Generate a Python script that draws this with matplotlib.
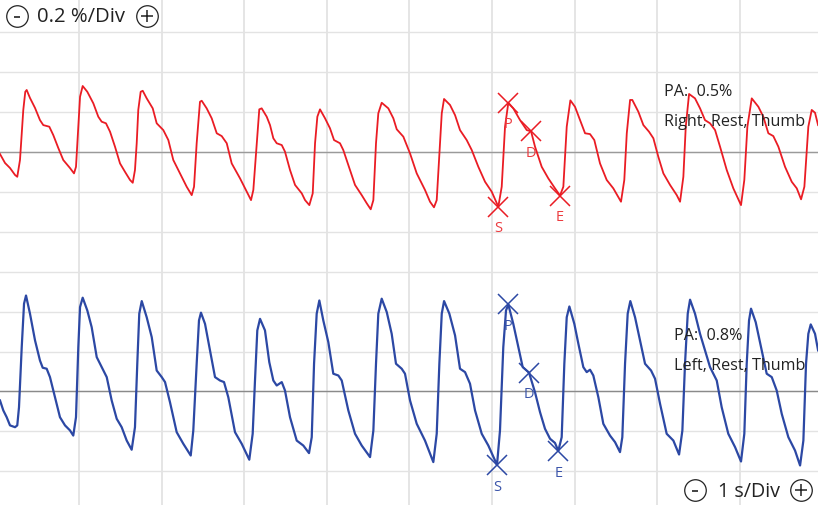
import matplotlib
matplotlib.use("Agg")
import matplotlib.pyplot as plt

# ---------------- data (time in s, signal in %) ----------------
red_t = [0.044, 0.105, 0.165, 0.226, 0.253, 0.286, 0.326, 0.350, 0.367, 0.407, 0.468, 0.528, 0.568, 0.641,
         0.689, 0.750, 0.810, 0.891, 0.940, 0.964, 0.992, 1.013, 1.045, 1.101, 1.174, 1.234, 1.275, 1.327,
         1.376, 1.436, 1.497, 1.557, 1.618, 1.651, 1.678, 1.699, 1.718, 1.747, 1.772, 1.820, 1.893, 1.941,
         2.021, 2.082, 2.142, 2.223, 2.304, 2.365, 2.393, 2.425, 2.465, 2.486, 2.546, 2.607, 2.668, 2.728,
         2.789, 2.849, 2.950, 3.031, 3.083, 3.111, 3.152, 3.183, 3.212, 3.273, 3.313, 3.353, 3.394, 3.455,
         3.494, 3.555, 3.616, 3.697, 3.737, 3.789, 3.830, 3.858, 3.886, 3.918, 3.979, 4.039, 4.088, 4.160,
         4.200, 4.281, 4.342, 4.423, 4.484, 4.532, 4.564, 4.596, 4.624, 4.665, 4.745, 4.806, 4.847, 4.927,
         5.008, 5.089, 5.189, 5.250, 5.298, 5.331, 5.371, 5.392, 5.420, 5.492, 5.553, 5.613, 5.694, 5.755,
         5.835, 5.916, 5.997, 6.077, 6.118, 6.158, 6.198, 6.258, 6.340, 6.421, 6.473, 6.521, 6.602, 6.682,
         6.763, 6.824, 6.864, 6.905, 6.949, 7.005, 7.066, 7.127, 7.187, 7.239, 7.308, 7.389, 7.469, 7.562,
         7.602, 7.632, 7.672, 7.699, 7.772, 7.833, 7.901, 7.954, 8.014, 8.075, 8.156, 8.237, 8.277, 8.317,
         8.346, 8.386, 8.458, 8.519, 8.579, 8.640, 8.701, 8.761, 8.842, 8.922, 9.015, 9.055, 9.092, 9.145,
         9.225, 9.285, 9.346, 9.406, 9.467, 9.548, 9.629, 9.690, 9.742, 9.782, 9.830, 9.871, 9.911, 9.948]
red_v = [-0.010, -0.055, -0.080, -0.115, -0.124, -0.040, 0.211, 0.302, 0.311, 0.271, 0.221, 0.160, 0.135, 0.127,
         0.085, 0.020, -0.040, -0.080, -0.107, -0.074, 0.127, 0.277, 0.331, 0.302, 0.244, 0.177, 0.152, 0.144,
         0.102, 0.027, -0.057, -0.099, -0.140, -0.154, -0.090, 0.044, 0.211, 0.302, 0.307, 0.269, 0.219, 0.144,
         0.110, 0.060, -0.040, -0.107, -0.174, -0.216, -0.174, 0.044, 0.252, 0.257, 0.219, 0.169, 0.094, 0.080,
         0.044, -0.057, -0.132, -0.199, -0.241, -0.190, 0.044, 0.214, 0.219, 0.177, 0.135, 0.069, 0.044, 0.035,
         0.002, -0.090, -0.165, -0.207, -0.241, -0.266, -0.207, 0.044, 0.177, 0.214, 0.169, 0.119, 0.060, 0.044,
         0.010, -0.090, -0.165, -0.216, -0.257, -0.287, -0.241, 0.044, 0.194, 0.247, 0.219, 0.169, 0.114, 0.077,
         -0.007, -0.107, -0.190, -0.249, -0.277, -0.241, 0.044, 0.194, 0.266, 0.236, 0.185, 0.110, 0.060, 0.010,
         -0.074, -0.149, -0.199, -0.274, -0.174, 0.127, 0.247, 0.219, 0.160, 0.110, 0.104, 0.027, -0.074, -0.132,
         -0.182, -0.218, -0.174, 0.127, 0.259, 0.227, 0.160, 0.094, 0.090, 0.060, -0.057, -0.140, -0.182, -0.249,
         -0.140, 0.094, 0.261, 0.261, 0.202, 0.135, 0.102, 0.069, -0.024, -0.107, -0.165, -0.216, -0.249, -0.124,
         0.127, 0.291, 0.269, 0.219, 0.160, 0.144, 0.110, 0.027, -0.090, -0.182, -0.266, -0.140, 0.127, 0.269,
         0.227, 0.177, 0.094, 0.080, 0.027, -0.074, -0.149, -0.182, -0.237, -0.174, 0.127, 0.211, 0.197, 0.135]

blue_t = [0.044, 0.084, 0.125, 0.165, 0.226, 0.253, 0.274, 0.307, 0.335, 0.359, 0.407, 0.468, 0.528, 0.561,
          0.609, 0.649, 0.710, 0.770, 0.831, 0.891, 0.931, 0.964, 0.992, 1.013, 1.045, 1.101, 1.154, 1.215,
          1.275, 1.336, 1.396, 1.457, 1.517, 1.578, 1.638, 1.678, 1.706, 1.730, 1.760, 1.820, 1.881, 1.941,
          2.002, 2.042, 2.102, 2.183, 2.263, 2.353, 2.384, 2.425, 2.453, 2.477, 2.526, 2.586, 2.647, 2.707,
          2.756, 2.808, 2.889, 2.970, 3.062, 3.103, 3.131, 3.159, 3.192, 3.252, 3.304, 3.353, 3.394, 3.455,
          3.494, 3.555, 3.636, 3.716, 3.785, 3.818, 3.846, 3.878, 3.910, 3.958, 4.019, 4.079, 4.140, 4.181,
          4.261, 4.342, 4.423, 4.524, 4.564, 4.596, 4.624, 4.665, 4.726, 4.786, 4.838, 4.907, 4.947, 5.008,
          5.089, 5.189, 5.290, 5.331, 5.363, 5.392, 5.420, 5.484, 5.553, 5.613, 5.674, 5.734, 5.795, 5.876,
          5.956, 6.061, 6.097, 6.137, 6.170, 6.198, 6.258, 6.319, 6.372, 6.448, 6.521, 6.582, 6.642, 6.703,
          6.763, 6.803, 6.844, 6.876, 6.905, 6.937, 6.997, 7.046, 7.106, 7.147, 7.187, 7.227, 7.288, 7.348,
          7.429, 7.490, 7.550, 7.578, 7.611, 7.643, 7.675, 7.732, 7.792, 7.853, 7.926, 7.974, 8.035, 8.115,
          8.196, 8.265, 8.305, 8.337, 8.370, 8.398, 8.458, 8.519, 8.579, 8.640, 8.721, 8.781, 8.861, 8.943,
          9.015, 9.055, 9.084, 9.112, 9.136, 9.193, 9.257, 9.326, 9.387, 9.447, 9.508, 9.588, 9.669, 9.730,
          9.770, 9.802, 9.830, 9.859, 9.911, 9.948]
blue_v = [-0.045, -0.095, -0.129, -0.170, -0.179, -0.170, -0.079, 0.222, 0.440, 0.481, 0.390, 0.256, 0.155, 0.119,
          0.114, 0.072, -0.029, -0.129, -0.170, -0.195, -0.221, -0.129, 0.222, 0.423, 0.470, 0.406, 0.322, 0.172,
          0.122, 0.072, -0.045, -0.137, -0.179, -0.246, -0.292, -0.179, 0.139, 0.390, 0.453, 0.372, 0.272, 0.105,
          0.072, 0.047, -0.054, -0.204, -0.262, -0.321, -0.196, 0.139, 0.356, 0.395, 0.339, 0.206, 0.072, 0.055,
          0.047, -0.029, -0.204, -0.262, -0.342, -0.212, 0.055, 0.306, 0.364, 0.306, 0.147, 0.055, 0.030, 0.047,
          0.005, -0.129, -0.246, -0.271, -0.309, -0.229, 0.139, 0.390, 0.456, 0.356, 0.247, 0.089, 0.080, 0.055,
          -0.095, -0.212, -0.271, -0.329, -0.196, 0.139, 0.390, 0.465, 0.398, 0.289, 0.139, 0.114, 0.089, -0.045,
          -0.162, -0.246, -0.354, -0.212, 0.139, 0.390, 0.453, 0.390, 0.281, 0.114, 0.097, 0.039, -0.095, -0.212,
          -0.271, -0.368, -0.196, 0.222, 0.406, 0.436, 0.339, 0.222, 0.122, 0.095, -0.004, -0.104, -0.187, -0.237,
          -0.258, -0.298, -0.229, 0.139, 0.372, 0.426, 0.339, 0.239, 0.122, 0.097, 0.109, 0.080, -0.029, -0.162,
          -0.221, -0.254, -0.304, -0.229, 0.139, 0.390, 0.453, 0.372, 0.256, 0.139, 0.105, 0.064, -0.062, -0.212,
          -0.246, -0.316, -0.196, 0.139, 0.390, 0.460, 0.390, 0.289, 0.206, 0.122, 0.055, -0.079, -0.212, -0.279,
          -0.351, -0.212, 0.139, 0.356, 0.415, 0.347, 0.222, 0.089, 0.072, 0.005, -0.112, -0.229, -0.296, -0.371,
          -0.246, 0.139, 0.289, 0.336, 0.289, 0.206]

point_labels = ["S", "P", "D", "E"]
red_pts_t = [6.077, 6.198, 6.473, 6.824]
red_pts_v = [-0.274, 0.247, 0.104, -0.218]
blue_pts_t = [6.061, 6.198, 6.448, 6.803]
blue_pts_v = [-0.368, 0.436, 0.095, -0.298]

red_info = ["PA:  0.5%", "Right, Rest, Thumb"]
blue_info = ["PA:  0.8%", "Left, Rest, Thumb"]
amp_scale = "0.2 %/Div"
time_scale = "1 s/Div"

# ---------------- layout / style ----------------
RED = "#ea1c24"
BLUE = "#2c48a4"
W, H = 818, 505
blue_offset = -1.2       # bottom trace baseline (6 divisions below top trace)
FONT = ["Open Sans", "DejaVu Sans"]

fig = plt.figure(figsize=(W / 100, H / 100), dpi=100)
ax = fig.add_axes([0, 0, 1, 1])
ax.set_xlim(0.044, 9.947)
ax.set_ylim(-1.769, 0.762)
for s in ax.spines.values():
    s.set_visible(False)
ax.set_xticks([])
ax.set_yticks([])

for x in range(1, 10):
    ax.axvline(x, color="#e3e3e3", lw=1.3, zorder=0)
for k in range(12):
    ax.axhline(0.6 - 0.2 * k, color="#e3e3e3", lw=1.0, zorder=0)
ax.axhline(0.0, color="#9a9a9a", lw=1.0, zorder=1)
ax.axhline(blue_offset, color="#8a8a8a", lw=1.0, zorder=1)

ax.plot(red_t, red_v, color=RED, lw=1.3, zorder=3, solid_joinstyle="round")
ax.plot(blue_t, [v + blue_offset for v in blue_v], color=BLUE, lw=1.6, zorder=3,
        solid_joinstyle="round")

for t, v, lab in zip(red_pts_t, red_pts_v, point_labels):
    ax.plot([t], [v], marker="x", ms=14, mew=1.1, color=RED, zorder=4)
    ax.annotate(lab, (t, v), xytext=(0, -16), textcoords="offset points",
                ha="center", va="center", color="#ec3b3f", fontsize=10.5, family=FONT)
for t, v, lab in zip(blue_pts_t, blue_pts_v, point_labels):
    vv = v + blue_offset
    ax.plot([t], [vv], marker="x", ms=14, mew=1.1, color=BLUE, zorder=4)
    ax.annotate(lab, (t, vv), xytext=(0, -16), textcoords="offset points",
                ha="center", va="center", color="#3b55aa", fontsize=10.5, family=FONT)


def fx(px):
    return px / W


def fy(py):
    return 1 - py / H


INFO_FS = 11.6
ax.text(fx(664), fy(96.5), red_info[0], transform=ax.transAxes, fontsize=INFO_FS,
        family=FONT, color="#222222", va="baseline", zorder=5)
ax.text(fx(664), fy(126), red_info[1], transform=ax.transAxes, fontsize=INFO_FS,
        family=FONT, color="#222222", va="baseline", zorder=5)
ax.text(fx(674), fy(339.5), blue_info[0], transform=ax.transAxes, fontsize=INFO_FS,
        family=FONT, color="#222222", va="baseline", zorder=5)
ax.text(fx(674), fy(370), blue_info[1], transform=ax.transAxes, fontsize=INFO_FS,
        family=FONT, color="#222222", va="baseline", zorder=5)


def button(px, py, sym):
    ax.plot([fx(px)], [fy(py)], transform=ax.transAxes, marker="o", ms=15.5,
            mfc="white", mec="#222222", mew=0.9, clip_on=False, zorder=6)
    if sym == "+":
        ax.plot([fx(px)], [fy(py)], transform=ax.transAxes, marker="+", ms=8,
                mew=1.1, color="#222222", clip_on=False, zorder=7)
    else:
        ax.plot([fx(px)], [fy(py + 1)], transform=ax.transAxes, marker="_", ms=4.5,
                mew=1.2, color="#222222", clip_on=False, zorder=7)


button(16.7, 15.5, "-")
ax.text(fx(37), fy(22), amp_scale, transform=ax.transAxes, fontsize=14.6,
        family=FONT, color="#222222", va="baseline", zorder=5)
button(147, 15.5, "+")

button(695, 489.5, "-")
ax.text(fx(718), fy(497), time_scale, transform=ax.transAxes, fontsize=14.2,
        family=FONT, color="#222222", va="baseline", zorder=5)
button(800.5, 489.5, "+")

fig.savefig("out.png", dpi=100)
